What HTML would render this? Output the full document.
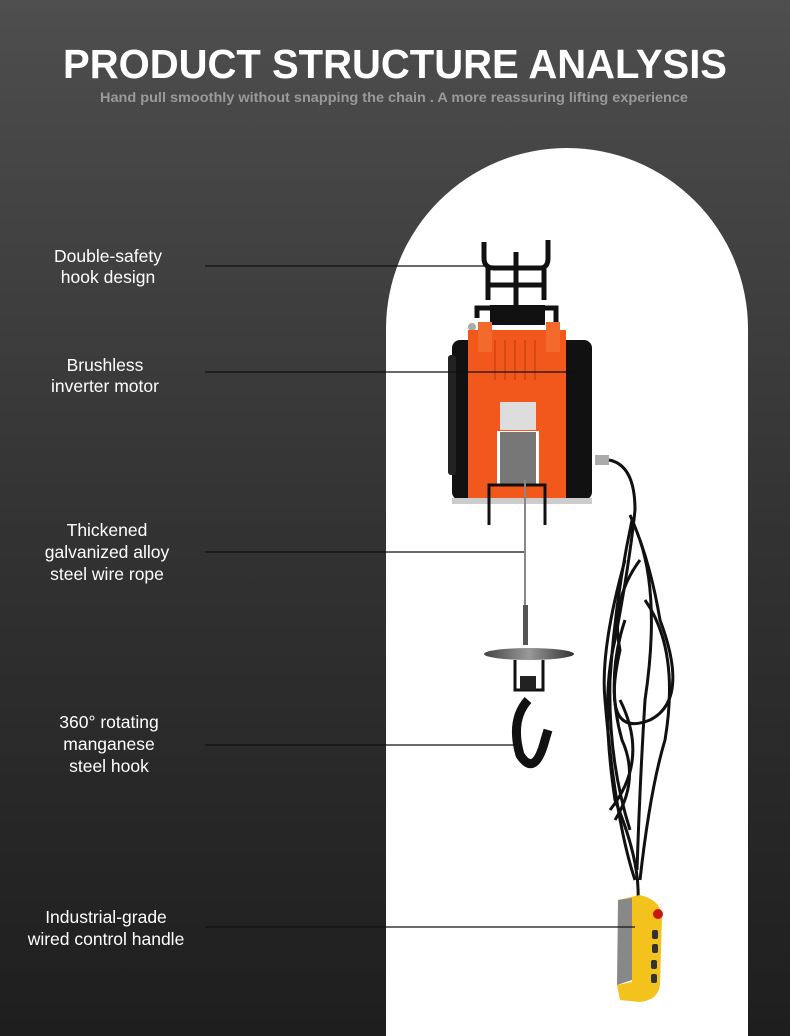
<!DOCTYPE html>
<html><head><meta charset="utf-8"><style>
html,body{margin:0;padding:0;width:790px;height:1036px;overflow:hidden;background:#2a2a2a}
</style></head><body>
<svg width="790" height="1036" viewBox="0 0 790 1036" xmlns="http://www.w3.org/2000/svg" font-family="Liberation Sans, sans-serif">
<defs>
<linearGradient id="bg" x1="0" y1="0" x2="0" y2="1">
<stop offset="0" stop-color="#4e4e4e"/><stop offset="0.5" stop-color="#333"/><stop offset="1" stop-color="#1e1e1e"/>
</linearGradient>
<linearGradient id="disk" x1="0" y1="0" x2="1" y2="0">
<stop offset="0" stop-color="#444"/><stop offset="0.5" stop-color="#999"/><stop offset="1" stop-color="#333"/>
</linearGradient>
</defs>
<rect width="790" height="1036" fill="url(#bg)"/>
<text x="395" y="78" fill="#fff" font-size="41" font-weight="bold" text-anchor="middle" textLength="664" lengthAdjust="spacingAndGlyphs">PRODUCT STRUCTURE ANALYSIS</text>
<text x="394" y="102" fill="#9a9a9a" font-size="13.5" font-weight="bold" text-anchor="middle" textLength="588" lengthAdjust="spacingAndGlyphs">Hand pull smoothly without snapping the chain .  A more reassuring lifting experience</text>
<path d="M386 1036 V329 A181 181 0 0 1 748 329 V1036 Z" fill="#fff"/>
<!-- hook frame -->
<g stroke="#111" fill="none" stroke-width="5">
<path d="M484 242 V258 Q484 268 494 268 H540 Q548 268 548 258 V240"/>
<path d="M488 268 V300 M544 268 V300 M488 285 H544"/>
<path d="M516 252 V310"/>
<path d="M477 318 V308 H556 V330"/>
</g>
<rect x="490" y="305" width="55" height="20" fill="#111"/>
<circle cx="472" cy="327" r="4" fill="#aaa"/>
<!-- body -->
<rect x="452" y="340" width="140" height="160" rx="8" fill="#111"/>
<rect x="448" y="355" width="8" height="120" rx="3" fill="#222"/>
<rect x="468" y="330" width="98" height="172" fill="#f2581c"/>
<rect x="478" y="322" width="14" height="30" fill="#f26a2c"/>
<rect x="546" y="322" width="14" height="30" fill="#f26a2c"/>
<g stroke="#d84810" stroke-width="2"><path d="M495 340V380 M505 340V380 M515 340V380 M525 340V380 M535 340V380"/></g>
<rect x="500" y="402" width="36" height="28" fill="#ddd"/>
<rect x="497" y="431" width="42" height="55" fill="#fff"/>
<rect x="500" y="432" width="36" height="52" fill="#777"/>
<rect x="452" y="498" width="140" height="6" fill="#ccc"/>
<path d="M489 525 V485 H545 V525" stroke="#111" stroke-width="3" fill="none"/>
<rect x="595" y="455" width="14" height="10" fill="#aaa"/>
<!-- rope -->
<line x1="525" y1="480" x2="525" y2="645" stroke="#888" stroke-width="2"/>
<rect x="523" y="605" width="5" height="40" fill="#555"/>
<ellipse cx="529" cy="654" rx="45" ry="6" fill="url(#disk)"/>
<path d="M515 660 V690 H543 V660" stroke="#111" stroke-width="3" fill="none"/>
<rect x="520" y="676" width="16" height="14" fill="#222"/>
<path d="M528 700 Q510 720 520 755 Q535 778 545 740 L548 730" stroke="#111" stroke-width="9" fill="none"/>
<!-- cable -->
<g stroke="#111" stroke-width="3" fill="none">
<path d="M609 460 Q635 465 635 510 Q630 560 615 640 Q600 700 615 800 Q640 860 638 900"/>
<path d="M630 515 Q650 560 660 620 Q690 700 650 720 Q600 740 620 650 Q610 600 640 560"/>
<path d="M625 560 Q600 650 605 700 Q615 820 635 880"/>
<path d="M645 600 Q680 650 665 740 Q650 790 640 880"/>
<path d="M620 700 Q650 760 610 810"/>
<path d="M632 520 Q615 600 610 680 Q608 760 630 830"/>
<path d="M640 540 Q660 600 645 700 Q640 780 637 870"/>
<path d="M625 620 Q605 680 622 740 Q640 780 615 820"/>
</g>
<!-- controller -->
<path d="M618 900 L640 895 Q660 900 662 915 L660 985 Q658 1000 640 1002 L620 1000 L617 985 L632 982 L630 930 Z" fill="#f4c21c"/>
<path d="M618 900 L632 898 L632 980 L617 985 Z" fill="#888"/>
<circle cx="658" cy="914" r="5" fill="#c81818"/>
<g fill="#333"><rect x="652" y="930" width="6" height="9" rx="2"/><rect x="652" y="944" width="6" height="9" rx="2"/><rect x="651" y="960" width="6" height="9" rx="2"/><rect x="651" y="974" width="6" height="9" rx="2"/></g>
<!-- lines -->
<g stroke="#111" stroke-width="1.2">
<line x1="205" y1="266" x2="484" y2="266"/>
<line x1="205" y1="372" x2="580" y2="372"/>
<line x1="205" y1="552" x2="524" y2="552"/>
<line x1="205" y1="745" x2="515" y2="745"/>
<line x1="205" y1="927" x2="635" y2="927"/>
</g>
<g fill="#fff" font-size="17.5" text-anchor="middle">
<text x="108" y="262">Double-safety</text><text x="108" y="283">hook design</text>
<text x="105" y="371">Brushless</text><text x="105" y="392">inverter motor</text>
<text x="107" y="536">Thickened</text><text x="107" y="558">galvanized alloy</text><text x="107" y="580">steel wire rope</text>
<text x="109" y="728">360° rotating</text><text x="109" y="750">manganese</text><text x="109" y="772">steel hook</text>
<text x="106" y="923">Industrial-grade</text><text x="106" y="945">wired control handle</text>
</g>
</svg>
</body></html>
